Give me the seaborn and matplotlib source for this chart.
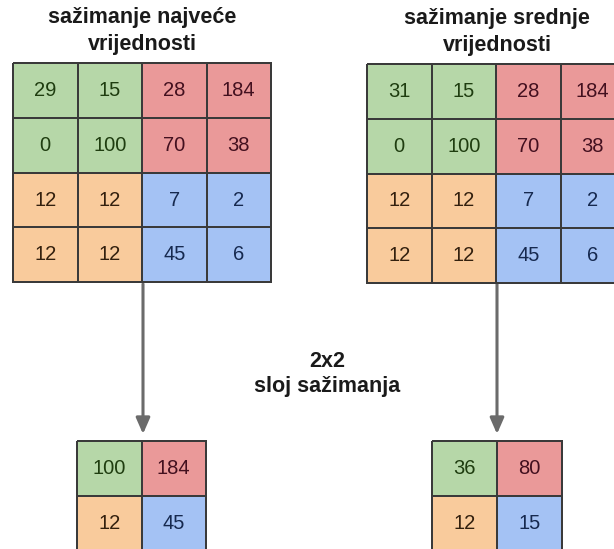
"""Max vs. average pooling diagram (2x2 pooling layer)."""

import matplotlib
matplotlib.use("Agg")
import matplotlib.pyplot as plt
import numpy as np
import seaborn as sns
from matplotlib.colors import ListedColormap

sns.set_theme(style="white")
plt.rcParams["font.family"] = ["Liberation Sans", "DejaVu Sans"]

# %% data
max_input = [[29, 15, 28, 184],
             [0, 100, 70, 38],
             [12, 12, 7, 2],
             [12, 12, 45, 6]]
avg_input = [[31, 15, 28, 184],
             [0, 100, 70, 38],
             [12, 12, 7, 2],
             [12, 12, 45, 6]]
max_output = [[100, 184],
              [12, 45]]
avg_output = [[36, 80],
              [12, 15]]
regions_4 = [[0, 0, 1, 1],
             [0, 0, 1, 1],
             [2, 2, 3, 3],
             [2, 2, 3, 3]]
regions_2 = [[0, 1],
             [2, 3]]

title_max = "sažimanje najveće\nvrijednosti"
title_avg = "sažimanje srednje\nvrijednosti"
mid_label = "2x2\nsloj sažimanja"

# green, red, orange, blue
fills = ["#b6d7a8", "#ea9999", "#f9cb9c", "#a4c2f4"]
inks = ["#1f3d10", "#43101f", "#33200e", "#16294f"]

W, H = 614, 549
fig = plt.figure(figsize=(W / 100, H / 100), dpi=100)
bg = fig.add_axes([0, 0, 1, 1])
bg.set_xlim(0, W)
bg.set_ylim(H, 0)
bg.axis("off")


def grid(values, regions, x0, y0, cw, ch):
    vals = np.array(values)
    reg = np.array(regions)
    nr, nc = vals.shape
    ax = fig.add_axes([x0 / W, 1 - (y0 + nr * ch) / H, nc * cw / W, nr * ch / H])
    sns.heatmap(reg, ax=ax, cmap=ListedColormap(fills), vmin=-0.5, vmax=3.5,
                annot=vals, fmt="d", cbar=False, linewidths=1.1,
                linecolor="#3a3a3a", annot_kws={"fontsize": 14.5})
    for txt, r in zip(ax.texts, reg.ravel()):
        txt.set_color(inks[r])
    for coll in ax.collections:
        coll.set_clip_on(False)
    ax.set_xticks([])
    ax.set_yticks([])
    return ax


grid(max_input, regions_4, 13, 63, 64.5, 54.8)
grid(avg_input, regions_4, 367, 64, 64.5, 54.8)
grid(max_output, regions_2, 77, 441, 64.5, 54.8)
grid(avg_output, regions_2, 432, 441, 65, 54.8)

bg.text(142, 31, title_max, ha="center", va="center", fontsize=15.5,
        fontweight="bold", color="#1a1a1a", linespacing=1.35)
bg.text(497, 32, title_avg, ha="center", va="center", fontsize=15.5,
        fontweight="bold", color="#1a1a1a", linespacing=1.35)
bg.text(327, 374, mid_label, ha="center", va="center", fontsize=15.5,
        fontweight="bold", color="#1a1a1a", linespacing=1.3)

for x in (143, 497):
    bg.annotate("", xy=(x, 434), xytext=(x, 284),
                arrowprops=dict(arrowstyle="-|>,head_width=0.35,head_length=0.8",
                                color="#6b6b6b", lw=2.2, shrinkA=0, shrinkB=0))

fig.savefig("out.png", dpi=100)
